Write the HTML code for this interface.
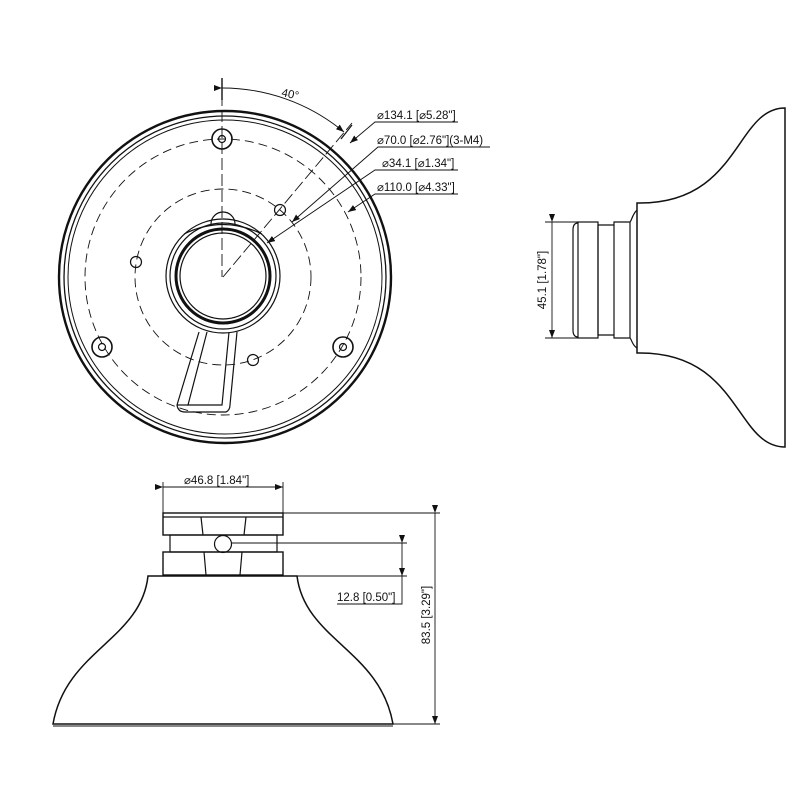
<!DOCTYPE html>
<html><head><meta charset="utf-8"><style>
html,body{margin:0;padding:0;background:#fff}
svg{display:block}
text{font-family:"Liberation Sans",sans-serif;font-size:11.5px;fill:#111}
</style></head><body>
<svg width="800" height="800" viewBox="0 0 800 800" xmlns="http://www.w3.org/2000/svg">
<defs><marker id="a" markerWidth="8" markerHeight="6" refX="8" refY="3" orient="auto" markerUnits="userSpaceOnUse"><path d="M0,0 L8,3 L0,6 z" fill="#111"/></marker></defs>
<g fill="none" stroke="#111" stroke-width="1.2">
<circle cx="225" cy="277" r="166" stroke-width="2.4"/>
<circle cx="225" cy="277" r="161" stroke-width="1.3"/>
<circle cx="225" cy="277" r="157" stroke-width="1"/>
<circle cx="223" cy="277" r="138" stroke-dasharray="9,5" stroke-width="0.9"/>
<circle cx="223" cy="277" r="88" stroke-dasharray="9,5" stroke-width="0.9"/>
<line x1="222" y1="78" x2="222" y2="277" stroke-dasharray="12,4" stroke-width="0.9"/>
<line x1="222" y1="78" x2="222" y2="100" stroke-width="1.4"/>
<line x1="223" y1="277" x2="352" y2="123" stroke-dasharray="12,4" stroke-width="0.9"/>
<path d="M222,88 A190,190 0 0 1 344,132" marker-start="url(#a)" marker-end="url(#a)" stroke-width="0.9"/>
<line x1="341" y1="139" x2="352" y2="125"/>
<circle cx="222" cy="139" r="10" stroke-width="1.6"/><circle cx="222" cy="139" r="3.5"/>
<circle cx="102" cy="347" r="10" stroke-width="1.6"/><circle cx="102" cy="347" r="3.5"/>
<circle cx="343" cy="347" r="10" stroke-width="1.6"/><circle cx="343" cy="347" r="3.5"/>
<circle cx="280" cy="210" r="5.5"/><circle cx="136" cy="262" r="5.5"/><circle cx="253" cy="360" r="5.5"/>
<circle cx="223" cy="276" r="57"/><circle cx="223" cy="276" r="53"/>
<circle cx="223" cy="276" r="47" stroke-width="3"/><circle cx="223" cy="276" r="43"/>
<path d="M211,224 A10,10 0 0 1 235,224"/>
<path d="M184,234 Q223,215 262,234" />
<path d="M199,332 L177,405 Q178,412 185,412 L226,412 Q230,410 230,405 L237,332" />
<path d="M207,332 L188,405 L222,405 L229,332"/>
<line x1="188" y1="405" x2="177" y2="405"/>
<polyline points="458,122 375,122 350,143" marker-end="url(#a)" stroke-width="0.9"/>
<polyline points="490,147 378,147 292,222" marker-end="url(#a)" stroke-width="0.9"/>
<polyline points="458,170 375,170 267,243" marker-end="url(#a)" stroke-width="0.9"/>
<polyline points="458,194 375,194 348,212" marker-end="url(#a)" stroke-width="0.9"/>
<path d="M785,108 C735,108 740,205 637,203 L637,353 C740,351 735,447 785,447 Z" stroke-width="1.5"/>
<path d="M637,210 C632,215 632,220 630,222 L614,222 L614,338 L630,338 C632,340 632,345 637,348"/>
<line x1="630" y1="222" x2="630" y2="338"/>
<path d="M614,225 L598,225 L598,335 L614,335"/>
<rect x="578" y="222" width="20" height="116"/>
<path d="M578,223 Q573,223 573,230 L573,330 Q573,337 578,337"/>
<line x1="545" y1="222" x2="578" y2="222" stroke-width="0.9"/>
<line x1="545" y1="338" x2="578" y2="338" stroke-width="0.9"/>
<line x1="552" y1="222" x2="552" y2="338" marker-start="url(#a)" marker-end="url(#a)" stroke-width="0.9"/>
<rect x="163" y="513" width="120" height="22" stroke-width="1.4"/>
<line x1="163" y1="517" x2="283" y2="517"/>
<rect x="170" y="535" width="107" height="17"/>
<rect x="163" y="552" width="120" height="23" stroke-width="1.4"/>
<line x1="201" y1="517" x2="203" y2="535"/><line x1="246" y1="517" x2="244" y2="535"/>
<line x1="204" y1="552" x2="206" y2="575"/><line x1="242" y1="552" x2="240" y2="575"/>
<circle cx="223" cy="544" r="8.5"/>
<path d="M148,576 L297,576 C305,640 380,650 393,724 L53,724 C66,650 141,640 148,576 Z" stroke-width="1.5"/>
<line x1="53" y1="726" x2="393" y2="726" stroke-width="1"/>
<line x1="163" y1="482" x2="163" y2="513" stroke-width="0.9"/>
<line x1="283" y1="482" x2="283" y2="513" stroke-width="0.9"/>
<line x1="163" y1="487" x2="283" y2="487" marker-start="url(#a)" marker-end="url(#a)" stroke-width="0.9"/>
<line x1="283" y1="513" x2="440" y2="513" stroke-width="0.9"/>
<line x1="393" y1="724" x2="440" y2="724" stroke-width="0.9"/>
<line x1="435" y1="513" x2="435" y2="724" marker-start="url(#a)" marker-end="url(#a)" stroke-width="0.9"/>
<line x1="231" y1="543" x2="407" y2="543" stroke-width="0.9"/>
<line x1="297" y1="576" x2="407" y2="576" stroke-width="0.9"/>
<line x1="402" y1="543" x2="402" y2="576" marker-start="url(#a)" marker-end="url(#a)" stroke-width="0.9"/>
<polyline points="337,604 402,604 402,576" stroke-width="0.9"/>
</g>
<text x="281" y="96" transform="rotate(12 281 96)">40°</text>
<text x="377" y="119">⌀134.1 [⌀5.28"]</text>
<text x="377" y="144">⌀70.0 [⌀2.76"](3-M4)</text>
<text x="382" y="167">⌀34.1 [⌀1.34"]</text>
<text x="377" y="191">⌀110.0 [⌀4.33"]</text>
<text x="546" y="280" text-anchor="middle" transform="rotate(-90 546 280)">45.1 [1.78"]</text>
<text x="184" y="484">⌀46.8 [1.84"]</text>
<text x="337" y="601">12.8 [0.50"]</text>
<text x="430" y="615" text-anchor="middle" transform="rotate(-90 430 615)">83.5 [3.29"]</text>
</svg>
</body></html>
